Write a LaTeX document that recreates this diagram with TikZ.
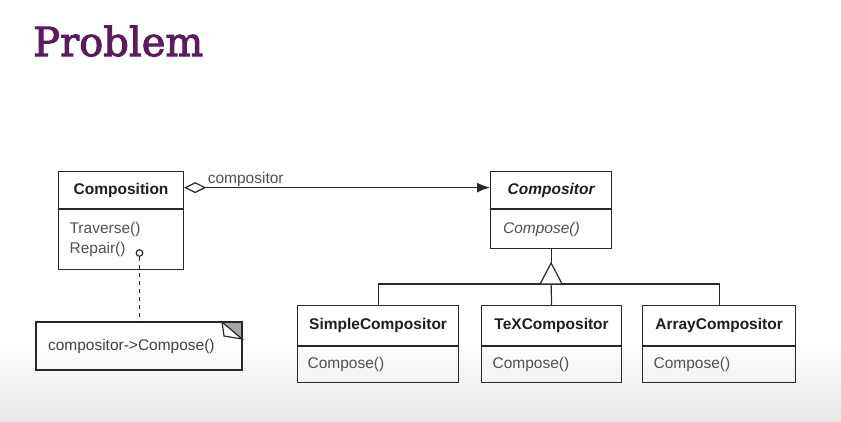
\documentclass[tikz,border=0pt]{standalone}
\usepackage{fontspec}
\setmainfont{Liberation Sans}
\newfontfamily\titlefont[FakeBold=2.5]{DejaVu Serif}
\usetikzlibrary{arrows.meta}
\definecolor{titlepurple}{RGB}{92,26,96}
\definecolor{linecol}{RGB}{40,40,40}
\definecolor{headcol}{RGB}{30,30,30}
\definecolor{bodycol}{RGB}{80,80,80}
\tikzset{
  hdr/.style={draw=linecol, line width=1.2pt, anchor=north west, inner sep=0pt,
    font=\fontsize{15.5}{20}\selectfont\bfseries, text=headcol},
  bdy/.style={draw=linecol, line width=1.2pt, anchor=north west, inner ysep=0pt,
    align=left, font=\fontsize{15.5}{20}\selectfont, text=bodycol},
  conn/.style={draw=linecol, line width=1.2pt},
}
\begin{document}
\begin{tikzpicture}[x=1pt,y=-1pt]
\useasboundingbox (0,0) rectangle (841,421);
\fill[white] (0,0) rectangle (841,421);
\shade[top color=white, bottom color=black!9] (0,340) rectangle (841,421);

\node[anchor=base west, inner sep=0pt, text=titlepurple,
  font=\titlefont\fontsize{40}{44}\selectfont] (title) at (33,56) {Problem};

% Composition
\node[hdr, minimum width=125pt, minimum height=37pt] (comp) at (58,171) {Composition};
\node[bdy, minimum width=125pt, minimum height=60pt, text width=103pt, inner xsep=11pt]
  (compb) at (comp.south west) {Traverse()\\Repair()};

% Compositor
\node[hdr, minimum width=121pt, minimum height=37pt] (cmpr) at (490,171) {\itshape Compositor};
\node[bdy, minimum width=121pt, minimum height=39pt, text width=96pt, inner xsep=12.5pt]
  (cmprb) at (cmpr.south west) {\itshape Compose()};

% Subclasses
\node[hdr, minimum width=161pt, minimum height=40pt] (simple) at (297,305) {SimpleCompositor};
\node[bdy, minimum width=161pt, minimum height=36pt, text width=141pt, inner xsep=10pt]
  (simpleb) at (simple.south west) {Compose()};
\node[hdr, minimum width=140pt, minimum height=40pt] (tex) at (481,305) {TeXCompositor};
\node[bdy, minimum width=140pt, minimum height=36pt, text width=118pt, inner xsep=11pt]
  (texb) at (tex.south west) {Compose()};
\node[hdr, minimum width=153pt, minimum height=40pt] (array) at (642,305) {ArrayCompositor};
\node[bdy, minimum width=153pt, minimum height=36pt, text width=131pt, inner xsep=11pt]
  (arrayb) at (array.south west) {Compose()};

% Note
\node[bdy, draw=none, outer sep=0pt, minimum width=206pt, minimum height=48pt, text width=182pt, inner xsep=12pt, text=black!75]
  (note) at (36,322) {compositor->Compose()};
\fill[black!35] ([xshift=-20pt]note.north east) -- (note.north east) -- ([yshift=-17pt]note.north east) -- cycle;
\filldraw[fill=white, draw=linecol, line width=1.2pt]
  ([xshift=-20pt]note.north east) -- ([xshift=-18pt,yshift=-14pt]note.north east)
  -- ([yshift=-17pt]note.north east) -- cycle;
\draw[conn] (note.north west) rectangle (note.south east);

% Note link
\node[circle, draw=linecol, line width=1.2pt, fill=white, inner sep=0pt, minimum size=6.5pt] (pin) at (139.5,253) {};
\draw[conn, dash pattern=on 4pt off 4pt] (pin.south) -- (pin |- note.north);

% Association
\draw[conn, {Diamond[open, fill=white, length=22pt, width=11pt]}-{Latex[length=13pt, width=10pt]}]
  ([yshift=2.5pt]comp.east) -- ([yshift=2.5pt]cmpr.west)
  node[pos=0, anchor=base west, xshift=23pt, yshift=4pt, inner sep=0pt,
       font=\fontsize{15.5}{20}\selectfont, text=bodycol] (lbl) {compositor};

% Inheritance
\coordinate (bar) at (cmprb.south |- 0,284);
\coordinate (apex) at (cmprb.south |- 0,263);
\draw[conn] (simple.north) |- (bar) -| (array.north);
\draw[conn] (tex.north) -- (bar);
\draw[conn] (cmprb.south) -- (apex);
\filldraw[conn, fill=white] (apex) -- ([xshift=-11pt]bar) -- ([xshift=11pt]bar) -- cycle;
\end{tikzpicture}
\end{document}
